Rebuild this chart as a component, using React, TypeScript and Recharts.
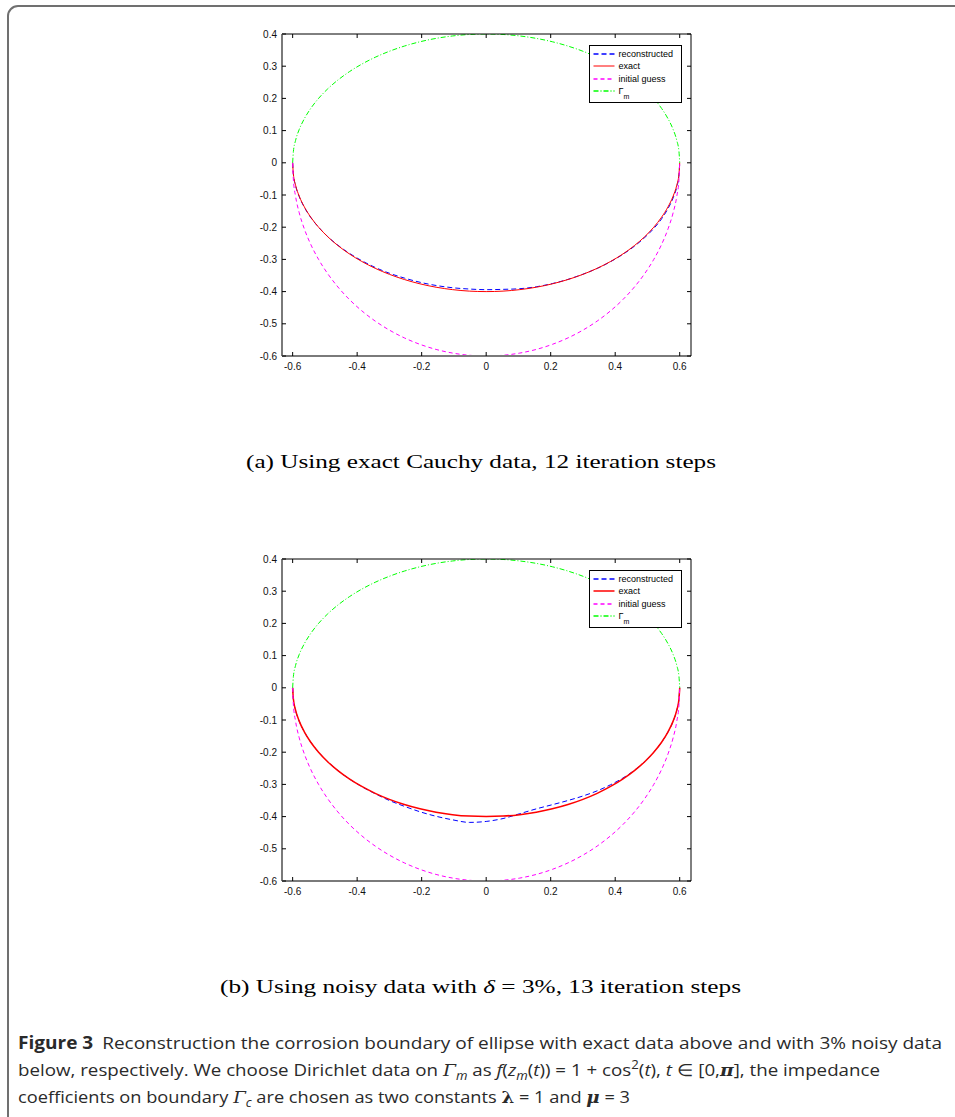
import React from 'react';
import { LineChart, Line, XAxis, YAxis } from 'recharts';

const xs = [-0.6, -0.5977, -0.5909, -0.5796, -0.5638, -0.5438, -0.5196, -0.4915, -0.4596, -0.4243, -0.3857, -0.3441, -0.3, -0.2536, -0.2052, -0.1553, -0.1042, -0.0523, 0, 0.0523, 0.1042, 0.1553, 0.2052, 0.2536, 0.3, 0.3441, 0.3857, 0.4243, 0.4596, 0.4915, 0.5196, 0.5438, 0.5638, 0.5796, 0.5909, 0.5977, 0.6];

const gammaMY = [0, 0.0349, 0.0695, 0.1035, 0.1368, 0.169, 0.2, 0.2294, 0.2571, 0.2828, 0.3064, 0.3277, 0.3464, 0.3625, 0.3759, 0.3864, 0.3939, 0.3985, 0.4, 0.3985, 0.3939, 0.3864, 0.3759, 0.3625, 0.3464, 0.3277, 0.3064, 0.2828, 0.2571, 0.2294, 0.2, 0.169, 0.1368, 0.1035, 0.0695, 0.0349, 0];

const exactY = [0, -0.0349, -0.0695, -0.1035, -0.1368, -0.169, -0.2, -0.2294, -0.2571, -0.2828, -0.3064, -0.3277, -0.3464, -0.3625, -0.3759, -0.3864, -0.3939, -0.3985, -0.4, -0.3985, -0.3939, -0.3864, -0.3759, -0.3625, -0.3464, -0.3277, -0.3064, -0.2828, -0.2571, -0.2294, -0.2, -0.169, -0.1368, -0.1035, -0.0695, -0.0349, 0];

const initialY = [0, -0.0523, -0.1042, -0.1553, -0.2052, -0.2536, -0.3, -0.3441, -0.3857, -0.4243, -0.4596, -0.4915, -0.5196, -0.5438, -0.5638, -0.5796, -0.5909, -0.5977, -0.6, -0.5977, -0.5909, -0.5796, -0.5638, -0.5438, -0.5196, -0.4915, -0.4596, -0.4243, -0.3857, -0.3441, -0.3, -0.2536, -0.2052, -0.1553, -0.1042, -0.0523, 0];

const reconExactY = [0, -0.036, -0.071, -0.105, -0.138, -0.17, -0.2, -0.229, -0.256, -0.281, -0.304, -0.325, -0.343, -0.358, -0.371, -0.381, -0.388, -0.392, -0.394, -0.393, -0.391, -0.385, -0.375, -0.362, -0.346, -0.328, -0.307, -0.284, -0.259, -0.232, -0.204, -0.174, -0.142, -0.109, -0.075, -0.038, 0];

const reconNoisyY = [0, -0.035, -0.07, -0.104, -0.137, -0.169, -0.2, -0.229, -0.257, -0.283, -0.307, -0.329, -0.35, -0.368, -0.385, -0.399, -0.41, -0.418, -0.415, -0.406, -0.391, -0.376, -0.363, -0.35, -0.336, -0.32, -0.301, -0.28, -0.256, -0.229, -0.2, -0.169, -0.137, -0.104, -0.07, -0.035, 0];

const xTicks = [-0.6, -0.4, -0.2, 0, 0.2, 0.4, 0.6];
const yTicks = [-0.6, -0.5, -0.4, -0.3, -0.2, -0.1, 0, 0.1, 0.2, 0.3, 0.4];
const xDomain = [-0.633, 0.635];
const yDomain = [-0.6, 0.4];
const legendLabels = ['reconstructed', 'exact', 'initial guess', 'Γ'];

const pts = (ys: number[]) => xs.map((x, i) => ({ x, y: ys[i] }));

const FONT = 'Liberation Sans, Arial, Helvetica, sans-serif';

const BLUE = '#0000ff';
const RED = '#ff0000';
const MAGENTA = '#ff00ff';
const GREEN = '#00ff00';

const NoTick = () => <g />;

function Panel({ top, recon, exactWidth }: { top: number; recon: number[]; exactWidth: number }) {
  return (
    <div style={{ position: 'absolute', left: 0, top, width: 955, height: 400 }}>
      <LineChart width={955} height={400} margin={{ top: 33, left: 242, right: 263, bottom: 14 }}>
        <XAxis
          xAxisId="b"
          type="number"
          dataKey="x"
          domain={xDomain}
          allowDataOverflow
          ticks={xTicks}
          interval={0}
          height={30}
          tickSize={-4}
          tickMargin={11}
          axisLine={{ stroke: '#7a7a7a', strokeWidth: 2 }}
          tickLine={{ stroke: '#000', strokeWidth: 1 }}
          tick={{ fill: '#111', fontSize: 10, fontFamily: FONT }}
        />
        <XAxis
          xAxisId="t"
          orientation="top"
          type="number"
          dataKey="x"
          domain={xDomain}
          allowDataOverflow
          ticks={xTicks}
          interval={0}
          height={1}
          tickSize={-4}
          tickMargin={0}
          axisLine={{ stroke: '#000', strokeWidth: 1 }}
          tickLine={{ stroke: '#000', strokeWidth: 1 }}
          tick={NoTick}
        />
        <YAxis
          yAxisId="l"
          type="number"
          domain={yDomain}
          allowDataOverflow
          ticks={yTicks}
          interval={0}
          width={40}
          tickSize={-4}
          tickMargin={9}
          axisLine={{ stroke: '#7a7a7a', strokeWidth: 2 }}
          tickLine={{ stroke: '#000', strokeWidth: 1 }}
          tick={{ fill: '#111', fontSize: 10, fontFamily: FONT }}
        />
        <YAxis
          yAxisId="r"
          orientation="right"
          type="number"
          domain={yDomain}
          allowDataOverflow
          ticks={yTicks}
          interval={0}
          width={1}
          tickSize={-4}
          tickMargin={0}
          axisLine={{ stroke: '#000', strokeWidth: 1 }}
          tickLine={{ stroke: '#000', strokeWidth: 1 }}
          tick={NoTick}
        />
        <Line xAxisId="b" yAxisId="l" data={pts(recon)} dataKey="y" type="monotone" stroke={BLUE} strokeWidth={1} strokeDasharray="5 3" dot={false} activeDot={false} isAnimationActive={false} />
        <Line xAxisId="b" yAxisId="l" data={pts(exactY)} dataKey="y" type="monotone" stroke={RED} strokeWidth={exactWidth} dot={false} activeDot={false} isAnimationActive={false} />
        <Line xAxisId="b" yAxisId="l" data={pts(initialY)} dataKey="y" type="monotone" stroke={MAGENTA} strokeWidth={1} strokeDasharray="4 3" dot={false} activeDot={false} isAnimationActive={false} />
        <Line xAxisId="b" yAxisId="l" data={pts(gammaMY)} dataKey="y" type="monotone" stroke={GREEN} strokeWidth={1} strokeDasharray="5 2 1 2" dot={false} activeDot={false} isAnimationActive={false} />
      </LineChart>
    </div>
  );
}

function LegendBox({ x, y, exactWidth }: { x: number; y: number; exactWidth: number }) {
  const rows = [
    { c: BLUE, d: '5 3', w: 1.5 },
    { c: RED, d: undefined, w: exactWidth },
    { c: MAGENTA, d: '4 3', w: 1.5 },
    { c: GREEN, d: '5 2 1 2', w: 1.5 },
  ];
  return (
    <g>
      <rect x={x} y={y} width={92} height={57} fill="#fff" stroke="#000" strokeWidth={1} />
      {rows.map((r, i) => {
        const cy = Math.round(y + 8 + i * 12.6);
        return (
          <g key={i}>
            <line x1={x + 4} x2={x + 25} y1={cy} y2={cy} stroke={r.c} strokeWidth={r.w} strokeDasharray={r.d} />
            <text x={x + 29} y={cy + 3.2} fontSize={9} fontFamily={FONT} fill="#000">
              {legendLabels[i]}
              {i === 3 ? (
                <tspan dy={5} fontSize={7}>
                  m
                </tspan>
              ) : null}
            </text>
          </g>
        );
      })}
    </g>
  );
}

const CAP = "'Open Sans', 'Noto Sans', sans-serif";
const MATH = "'DejaVu Serif', 'Liberation Serif', serif";
const TITLE = "'Liberation Serif', 'DejaVu Serif', serif";

export default function App() {
  return (
    <div style={{ position: 'absolute', left: 0, top: 0, width: 955, height: 1117, background: '#fff', overflow: 'hidden' }}>
      <div
        style={{
          position: 'absolute',
          left: 7,
          top: 5,
          width: 980,
          height: 1130,
          border: '2px solid #707070',
          borderRadius: 11,
          boxSizing: 'border-box',
        }}
      />
      <Panel top={0} recon={reconExactY} exactWidth={1} />
      <Panel top={525} recon={reconNoisyY} exactWidth={1.5} />
      <svg width={955} height={1117} style={{ position: 'absolute', left: 0, top: 0, pointerEvents: 'none' }}>
        <LegendBox x={589.5} y={45.5} exactWidth={1} />
        <LegendBox x={589.5} y={570.5} exactWidth={1.5} />
        <text x={246} y={468} fontSize={19} fontFamily={TITLE} fill="#000" textLength={470} lengthAdjust="spacingAndGlyphs">
          (a) Using exact Cauchy data, 12 iteration steps
        </text>
        <text x={220} y={993} fontSize={19} fontFamily={TITLE} fill="#000" textLength={521} lengthAdjust="spacingAndGlyphs">
          (b) Using noisy data with <tspan fontStyle="italic">δ</tspan> = 3%, 13 iteration steps
        </text>
        <text x={18} y={1049} fontSize={17} fontFamily={CAP} fill="#2a2a2a" textLength={924} lengthAdjust="spacingAndGlyphs">
          <tspan fontWeight="bold">Figure 3</tspan>
          <tspan dx={8}>Reconstruction the corrosion boundary of ellipse with exact data above and with 3% noisy data</tspan>
        </text>
        <text x={18} y={1076} fontSize={17} fontFamily={CAP} fill="#2a2a2a" textLength={862} lengthAdjust="spacingAndGlyphs">
          below, respectively. We choose Dirichlet data on{' '}
          <tspan fontFamily={MATH} fontStyle="italic">Γ</tspan>
          <tspan fontStyle="italic" fontSize={12} dy={4}>m</tspan>
          <tspan dy={-4}> as </tspan>
          <tspan fontStyle="italic">f</tspan>(<tspan fontStyle="italic">z</tspan>
          <tspan fontStyle="italic" fontSize={12} dy={4}>m</tspan>
          <tspan dy={-4}>(</tspan>
          <tspan fontStyle="italic">t</tspan>)) = 1 + cos
          <tspan fontSize={12} dy={-7}>2</tspan>
          <tspan dy={7}>(</tspan>
          <tspan fontStyle="italic">t</tspan>), <tspan fontStyle="italic">t</tspan> ∈ [0,
          <tspan fontFamily={MATH} fontStyle="italic" fontWeight="bold">π</tspan>], the impedance
        </text>
        <text x={18} y={1103} fontSize={17} fontFamily={CAP} fill="#2a2a2a" textLength={612} lengthAdjust="spacingAndGlyphs">
          coefficients on boundary <tspan fontFamily={MATH} fontStyle="italic">Γ</tspan>
          <tspan fontStyle="italic" fontSize={12} dy={4}>c</tspan>
          <tspan dy={-4}> are chosen as two constants </tspan>
          <tspan fontFamily={MATH} fontWeight="bold">λ</tspan> = 1 and{' '}
          <tspan fontFamily={MATH} fontStyle="italic" fontWeight="bold">μ</tspan> = 3
        </text>
      </svg>
    </div>
  );
}
